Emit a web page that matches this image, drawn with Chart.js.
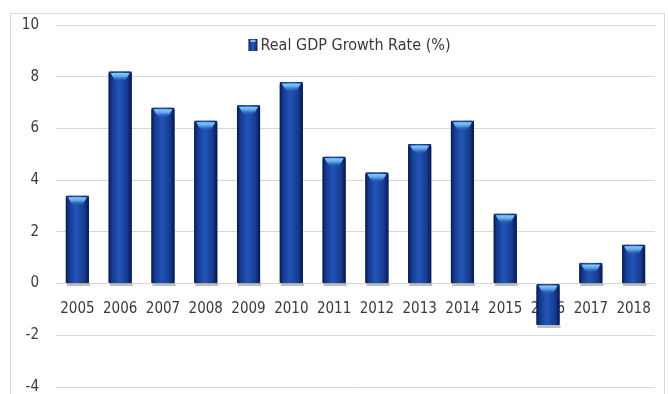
<!DOCTYPE html>
<html>
<head>
<meta charset="utf-8">
<script src="https://cdn.jsdelivr.net/npm/chart.js@4.4.1/dist/chart.umd.min.js"></script>
<style>
  html, body { margin: 0; padding: 0; background: #fff; }
  #wrap { position: relative; width: 668px; height: 394px; }
</style>
</head>
<body>
<div id="wrap"><canvas id="gdpChart"></canvas></div>
<script>
// ---------- data ----------
const years = ["2005", "2006", "2007", "2008", "2009", "2010", "2011",
               "2012", "2013", "2014", "2015", "2016", "2017", "2018"];
const growth = [3.4, 8.2, 6.8, 6.3, 6.9, 7.8, 4.9, 4.3, 5.4, 6.3, 2.7, -1.6, 0.8, 1.5];
const yTicks = [-4, -2, 0, 2, 4, 6, 8, 10];
const seriesLabel = "Real GDP Growth Rate (%)";

const FONT = "'Liberation Sans Narrow', 'DejaVu Sans Condensed', sans-serif";
const TEXT = "#3a3a3a";

// ---------- helper: blue bar gradient ----------
function barGradient(ctx, left, right) {
  const g = ctx.createLinearGradient(left, 0, right, 0);
  g.addColorStop(0, "#081a4a");
  g.addColorStop(0.15, "#153a8f");
  g.addColorStop(0.45, "#2354b8");
  g.addColorStop(0.8, "#163b90");
  g.addColorStop(1, "#071846");
  return g;
}

// ---------- plugin: outer frame ----------
const framePlugin = {
  id: "frame",
  beforeDraw(chart) {
    const ctx = chart.ctx;
    ctx.save();
    ctx.strokeStyle = "#d9d9d9";
    ctx.lineWidth = 1;
    ctx.strokeRect(10.5, 13.5, chart.width - 14, chart.height);
    ctx.restore();
  }
};

// ---------- plugin: shaded bars ----------
const shadedBars = {
  id: "shadedBars",
  afterDatasetsDraw(chart) {
    const ctx = chart.ctx;
    const meta = chart.getDatasetMeta(0);
    ctx.save();
    meta.data.forEach((bar) => {
      const { x, y, base, width } = bar.getProps(["x", "y", "base", "width"], true);
      const left = x - width / 2;
      const right = x + width / 2;
      const top = Math.min(y, base);
      const bottom = Math.max(y, base);

      // soft shadow under the bar
      ctx.fillStyle = "rgba(70,70,70,0.35)";
      ctx.fillRect(left + 1, bottom, width, 3);

      // body
      ctx.fillStyle = barGradient(ctx, left, right);
      ctx.beginPath();
      ctx.roundRect(left, top, width, bottom - top, [3, 3, 1, 1]);
      ctx.fill();

      // light cap on top
      const capH = Math.min(10, (bottom - top) * 0.5);
      const cg = ctx.createLinearGradient(0, top, 0, top + capH);
      cg.addColorStop(0, "#a6defc");
      cg.addColorStop(0.5, "#5aa6e6");
      cg.addColorStop(1, "rgba(40,90,190,0)");
      ctx.fillStyle = cg;
      ctx.beginPath();
      ctx.moveTo(left + 2, top + 1.5);
      ctx.lineTo(right - 2, top + 1.5);
      ctx.lineTo(x + width * 0.2, top + capH);
      ctx.lineTo(x - width * 0.2, top + capH);
      ctx.closePath();
      ctx.fill();
    });
    ctx.restore();
  }
};

// ---------- plugin: legend inside plot ----------
const innerLegend = {
  id: "innerLegend",
  afterDraw(chart) {
    const ctx = chart.ctx;
    const area = chart.chartArea;
    const label = chart.data.datasets[0].label;
    ctx.save();
    ctx.font = "16px " + FONT;
    const tw = ctx.measureText(label).width;
    const boxW = 9, boxH = 12, gap = 3;
    const total = boxW + gap + tw;
    const x0 = (area.left + area.right) / 2 - 6 - total / 2;
    const yMid = area.top + 20;
    ctx.fillStyle = barGradient(ctx, x0, x0 + boxW);
    ctx.fillRect(x0, yMid - boxH / 2, boxW, boxH);
    ctx.fillStyle = "#7fc3f2";
    ctx.fillRect(x0 + 2, yMid - boxH / 2 + 1, boxW - 4, 2);
    ctx.fillStyle = TEXT;
    ctx.textBaseline = "middle";
    ctx.textAlign = "left";
    ctx.fillText(label, x0 + boxW + gap, yMid + 1);
    ctx.restore();
  }
};

// ---------- chart ----------
const ctx = document.getElementById("gdpChart").getContext("2d");
new Chart(ctx, {
  type: "bar",
  data: {
    labels: years,
    datasets: [
      {
        label: seriesLabel,
        data: growth,
        backgroundColor: "#1f4ea8",
        borderWidth: 0,
        barPercentage: 0.54,
        categoryPercentage: 1
      }
    ]
  },
  options: {
    responsive: true,
    maintainAspectRatio: false,
    animation: false,
    layout: { padding: { left: 12, right: 13, top: 25, bottom: 7 } },
    plugins: {
      legend: { display: false },
      tooltip: { enabled: false }
    },
    scales: {
      x: {
        position: { y: 0 },
        grid: { display: false, drawTicks: false },
        border: { display: false },
        afterFit: (scale) => {
          scale.height = 0;
          scale.paddingLeft = 0;
          scale.paddingRight = 0;
        },
        ticks: {
          color: TEXT,
          font: { family: FONT, size: 15 },
          padding: 17,
          maxRotation: 0,
          autoSkip: false
        }
      },
      y: {
        min: yTicks[0],
        max: yTicks[yTicks.length - 1],
        afterBuildTicks: (scale) => {
          scale.ticks = yTicks.map((v) => ({ value: v }));
        },
        afterFit: (scale) => {
          scale.width = 44;
          scale.paddingTop = 0;
          scale.paddingBottom = 0;
        },
        grid: { color: "#dcd7d3", lineWidth: 1, drawTicks: false },
        border: { display: false },
        ticks: {
          color: TEXT,
          font: { family: FONT, size: 15 },
          padding: 17
        }
      }
    }
  },
  plugins: [framePlugin, shadedBars, innerLegend]
});
</script>
</body>
</html>
